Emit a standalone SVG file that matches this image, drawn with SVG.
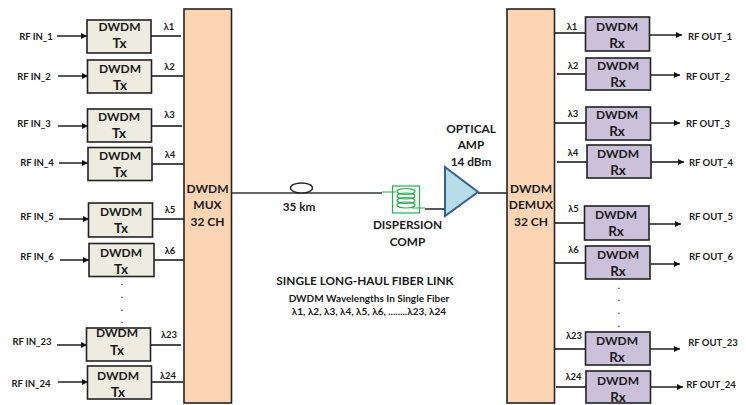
<svg xmlns="http://www.w3.org/2000/svg" width="746" height="405" viewBox="0 0 746 405">
<defs>
<marker id="ah" markerUnits="userSpaceOnUse" markerWidth="7" markerHeight="7" refX="6" refY="3" orient="auto"><path d="M0,0L6,3L0,6Z" fill="#111"/></marker>
</defs>
<style>
text{font-family:Lato,"Liberation Sans",sans-serif;font-weight:700;text-anchor:middle;fill:#1a1a1a}
.b{font-size:12px}.t{font-size:13.500px}.l{font-size:9.500px}.s{font-size:9.500px}.c{font-size:12px}.m{font-size:11.800px}.d{font-size:10px}
.tx rect{fill:#eeece1;stroke:#222;stroke-width:1.6}
.rx rect{fill:#ccc1da;stroke:#222;stroke-width:1.6}
.mx rect{fill:#fcd5b5;stroke:#222;stroke-width:1.6}
.w{stroke:#111;stroke-width:1.400;fill:none}
.a{stroke:#111;stroke-width:1.400;fill:none;marker-end:url(#ah)}
.f{stroke:#333;stroke-width:1.500;fill:none}
.g{stroke:#22b14c;stroke-width:1.200;fill:none}
</style>
<rect width="746" height="405" fill="#fff"/>
<g id="connectors">
<path class="a" d="M57 36H87"/><path class="a" d="M58 76H88"/><path class="a" d="M58 126H88"/><path class="a" d="M59 163H88"/><path class="a" d="M59 219H89"/><path class="a" d="M60 260H89"/><path class="a" d="M57 345H87"/><path class="a" d="M58 382H88"/>
<path class="w" d="M151 36H181M152 76H183M152 126H182M152 164H184M153 219H184M154 260H184M151 345H181M152 382H183"/>
<path class="w" d="M555 33H586M557 74H586M555 123H586M557 162H587M555 223H585M555 263H586M555 349H586M556 387H586"/>
<path class="a" d="M650 35H682"/><path class="a" d="M650 75H680"/><path class="a" d="M650 123H680"/><path class="a" d="M651 162H684"/><path class="a" d="M649 224H681"/><path class="a" d="M648 264H680"/><path class="a" d="M648 349H680"/><path class="a" d="M651 387H683"/>
<path class="f" d="M232 193H382"/>
<path class="w" d="M425 209H447"/>
<path class="w" d="M478 193H507"/>
</g>
<g id="tx1" class="tx"><rect x="87" y="20" width="64" height="33"/><text class="b" x="119.500" y="31">DWDM</text><text class="t" x="119.500" y="48">Tx</text></g>
<g id="tx2" class="tx"><rect x="87.500" y="60" width="64" height="33"/><text class="b" x="120" y="73">DWDM</text><text class="t" x="120" y="90">Tx</text></g>
<g id="tx3" class="tx"><rect x="87.500" y="109" width="64" height="33"/><text class="b" x="119" y="121">DWDM</text><text class="t" x="119" y="138">Tx</text></g>
<g id="tx4" class="tx"><rect x="88" y="147.500" width="64" height="33"/><text class="b" x="120" y="160">DWDM</text><text class="t" x="120" y="177">Tx</text></g>
<g id="tx5" class="tx"><rect x="88.500" y="203" width="64" height="34"/><text class="b" x="121" y="216">DWDM</text><text class="t" x="121" y="233">Tx</text></g>
<g id="tx6" class="tx"><rect x="89" y="243.500" width="65" height="33"/><text class="b" x="121" y="257">DWDM</text><text class="t" x="121" y="274">Tx</text></g>
<g id="tx23" class="tx"><rect x="86.500" y="328" width="64" height="33"/><text class="b" x="117" y="337">DWDM</text><text class="t" x="117" y="355">Tx</text></g>
<g id="tx24" class="tx"><rect x="87.500" y="366" width="64" height="33"/><text class="b" x="118" y="380">DWDM</text><text class="t" x="118" y="397">Tx</text></g>
<g id="in-labels">
<text class="l" x="36" y="40">RF IN_1</text><text class="l" x="34" y="80">RF IN_2</text><text class="l" x="34" y="127">RF IN_3</text><text class="l" x="37" y="166">RF IN_4</text><text class="l" x="37" y="220">RF IN_5</text><text class="l" x="37" y="260">RF IN_6</text><text class="l" x="32" y="345">RF IN_23</text><text class="l" x="31" y="387">RF IN_24</text>
</g>
<g id="lambda-left">
<text class="s" x="169" y="30">λ1</text><text class="s" x="169.500" y="70">λ2</text><text class="s" x="169.500" y="118">λ3</text><text class="s" x="170" y="158">λ4</text><text class="s" x="170" y="213">λ5</text><text class="s" x="170" y="254">λ6</text><text class="s" x="169" y="338">λ23</text><text class="s" x="168" y="379">λ24</text>
</g>
<g id="mux" class="mx"><rect x="184" y="9" width="47.500" height="394"/><text class="c" x="207.500" y="193">DWDM</text><text class="c" x="207.500" y="209">MUX</text><text class="c" x="207.500" y="226">32 CH</text></g>
<g id="demux" class="mx"><rect x="507" y="9" width="47.500" height="394"/><text class="c" x="531" y="193">DWDM</text><text class="c" x="531" y="209">DEMUX</text><text class="c" x="531" y="226">32 CH</text></g>
<g id="spool"><ellipse cx="301.500" cy="188" rx="11" ry="5" fill="#fff" stroke="#222" stroke-width="1.300"/><text class="m" x="299" y="211">35 km</text></g>
<g id="dispersion-comp">
<rect class="g" x="392.500" y="186" width="27" height="27"/>
<path class="g" d="M382 192H396M412 208H425"/>
<ellipse class="g" cx="406" cy="191.500" rx="9" ry="3"/><ellipse class="g" cx="406" cy="196" rx="9" ry="3"/><ellipse class="g" cx="406" cy="200.500" rx="9" ry="3"/><ellipse class="g" cx="406" cy="205" rx="9" ry="3"/>
<text class="m" x="407.500" y="229">DISPERSION</text><text class="m" x="407.500" y="246">COMP</text>
</g>
<g id="amp"><path d="M445 167L478 192L445 216Z" fill="#b7dde8" stroke="#376092" stroke-width="2"/><text class="m" x="471" y="133">OPTICAL</text><text class="m" x="471" y="149">AMP</text><text class="m" x="471" y="166">14 dBm</text></g>
<g id="link-text"><text class="m" x="365" y="285">SINGLE LONG-HAUL FIBER LINK</text><text class="d" x="369" y="302">DWDM Wavelengths In Single Fiber</text><text class="d" x="369" y="315">λ1, λ2, λ3, λ4, λ5, λ6, ........λ23, λ24</text></g>
<g id="rx1" class="rx"><rect x="585.500" y="17" width="64" height="34"/><text class="b" x="617" y="31">DWDM</text><text class="t" x="617" y="48">Rx</text></g>
<g id="rx2" class="rx"><rect x="586" y="58" width="64.500" height="32"/><text class="b" x="618" y="70">DWDM</text><text class="t" x="618" y="87">Rx</text></g>
<g id="rx3" class="rx"><rect x="586" y="107" width="64.500" height="33"/><text class="b" x="617" y="119">DWDM</text><text class="t" x="617" y="136">Rx</text></g>
<g id="rx4" class="rx"><rect x="587" y="145" width="64" height="33"/><text class="b" x="618" y="158">DWDM</text><text class="t" x="618" y="175">Rx</text></g>
<g id="rx5" class="rx"><rect x="584.500" y="206" width="64.500" height="34"/><text class="b" x="616" y="219">DWDM</text><text class="t" x="616" y="236">Rx</text></g>
<g id="rx6" class="rx"><rect x="585.500" y="246" width="64.500" height="33"/><text class="b" x="618" y="259">DWDM</text><text class="t" x="618" y="276">Rx</text></g>
<g id="rx23" class="rx"><rect x="585.500" y="332" width="64.500" height="33"/><text class="b" x="617" y="345">DWDM</text><text class="t" x="617" y="362">Rx</text></g>
<g id="rx24" class="rx"><rect x="586" y="371" width="64.500" height="32"/><text class="b" x="618" y="385">DWDM</text><text class="t" x="618" y="402">Rx</text></g>
<g id="lambda-right">
<text class="s" x="572" y="30">λ1</text><text class="s" x="573" y="69">λ2</text><text class="s" x="573" y="117">λ3</text><text class="s" x="573" y="156">λ4</text><text class="s" x="573.500" y="212">λ5</text><text class="s" x="573.500" y="253">λ6</text><text class="s" x="574" y="339">λ23</text><text class="s" x="573.500" y="380">λ24</text>
</g>
<g id="out-labels">
<text class="l" x="710" y="40">RF OUT_1</text><text class="l" x="708" y="80">RF OUT_2</text><text class="l" x="708" y="127">RF OUT_3</text><text class="l" x="711" y="166">RF OUT_4</text><text class="l" x="711" y="220">RF OUT_5</text><text class="l" x="711" y="260">RF OUT_6</text><text class="l" x="713" y="346">RF OUT_23</text><text class="l" x="711" y="388">RF OUT_24</text>
</g>
<g id="dots-left"><text class="l" x="122" y="285">.</text><text class="l" x="122" y="298">.</text><text class="l" x="122" y="311">.</text><text class="l" x="122" y="323">.</text></g>
<g id="dots-right"><text class="l" x="619" y="289">.</text><text class="l" x="619" y="301">.</text><text class="l" x="619" y="314">.</text><text class="l" x="619" y="327">.</text></g>
</svg>
